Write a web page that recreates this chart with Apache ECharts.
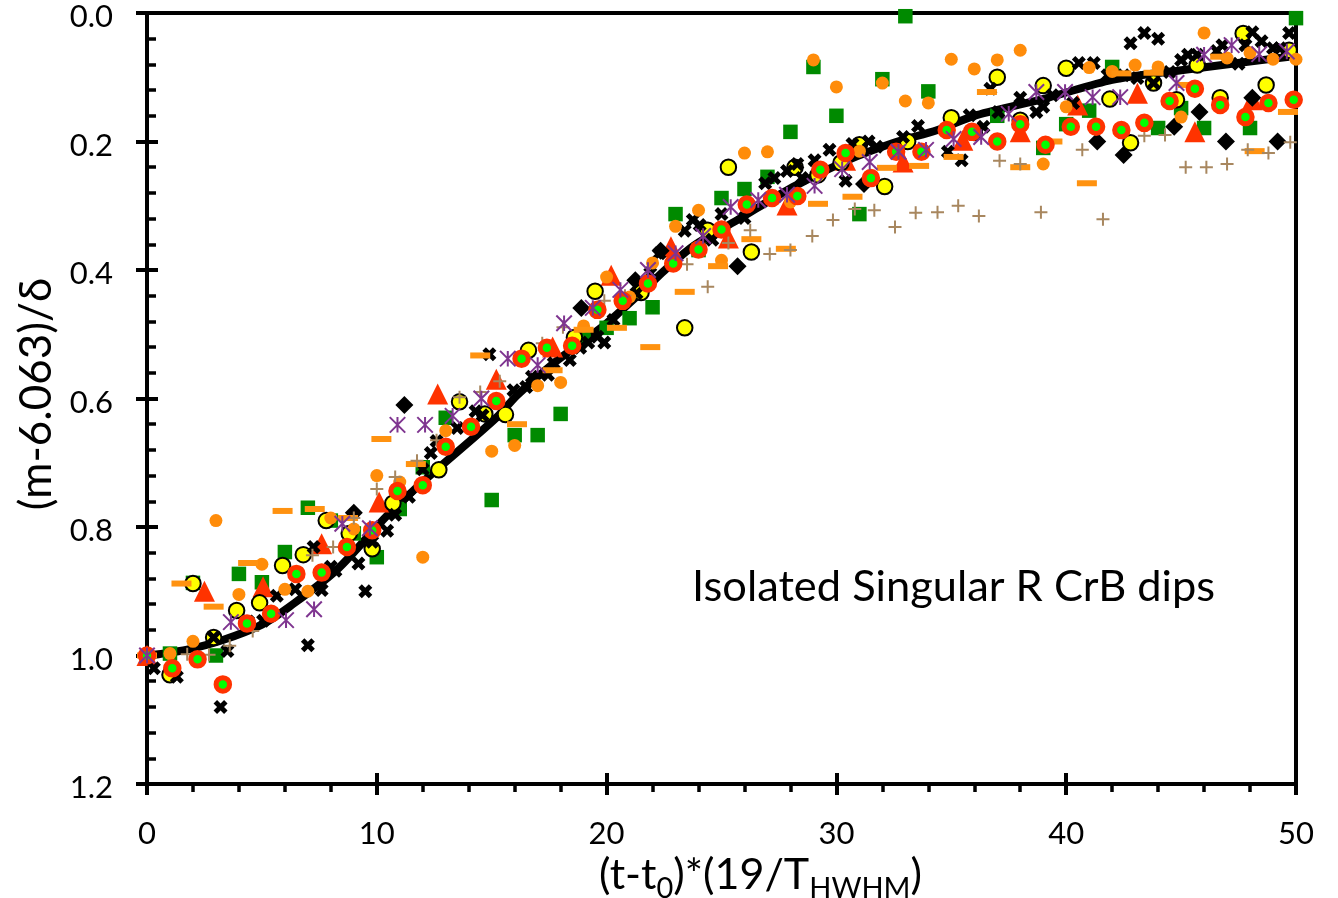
<!DOCTYPE html>
<html><head><meta charset="utf-8">
<style>html,body{margin:0;padding:0;background:#fff}#c{width:1338px;height:898px}</style>
<script src="https://cdn.jsdelivr.net/npm/echarts@6/dist/echarts.min.js"></script>
</head><body><div id="c"></div>
<script>
const xTicks=[0,10,20,30,40,50];
const yTicks=[0,0.2,0.4,0.6,0.8,1.0,1.2];
const curveX=[0,0.5,1.75,3.3,5,6.2,8.25,10.4,11.75,12.6,15.2,16.1,17.7,20,21.8,22.6,23.8,25.7,28.1,30.5,32.5,34.4,36.1,39.2,42,45,47.9,49.7];
const curveY=[1.0,0.998,0.991,0.976,0.952,0.924,0.867,0.784,0.738,0.711,0.63,0.595,0.545,0.483,0.425,0.398,0.362,0.322,0.271,0.229,0.202,0.182,0.159,0.132,0.104,0.089,0.076,0.068];
const ringX=[0,1.1,2.2,3.3,4.35,5.4,6.5,7.6,8.7,9.8,10.9,12,13,14.1,15.2,16.3,17.4,18.5,19.6,20.7,21.8,22.9,24,25,26.1,27.2,28.3,29.3,30.4,31.5,32.6,33.7,34.8,35.9,37,38,39.1,40.2,41.3,42.4,43.4,44.5,45.6,46.7,47.8,48.8,49.9];
const ringY=[1.0,1.02,1.006,1.045,0.95,0.935,0.873,0.871,0.831,0.805,0.744,0.735,0.675,0.644,0.604,0.538,0.521,0.518,0.462,0.448,0.421,0.39,0.368,0.337,0.298,0.288,0.285,0.244,0.218,0.257,0.216,0.216,0.182,0.185,0.2,0.173,0.205,0.177,0.177,0.182,0.171,0.137,0.118,0.143,0.162,0.14,0.135];
const yellowX=[1,2,2.9,3.9,4.9,5.9,6.8,7.8,8.8,9.8,10.7,12.7,13.6,14.7,15.6,16.6,18.6,19.5,21.5,23.4,24.4,25.3,26.3,28.2,29.2,30.2,31,32.1,33.1,35,36,37,38,39,40,41.9,42.8,43.8,44.8,45.7,46.7,47.7,48.7,49.7];
const yellowY=[1.03,0.888,0.972,0.93,0.918,0.86,0.843,0.79,0.81,0.834,0.763,0.711,0.605,0.624,0.625,0.525,0.505,0.433,0.435,0.49,0.338,0.24,0.372,0.24,0.252,0.233,0.205,0.27,0.2,0.163,0.186,0.1,0.167,0.113,0.086,0.134,0.202,0.109,0.135,0.081,0.132,0.032,0.112,0.058];
const orangeX=[0,1,2,3,4,5,6,7,8,9,10,11,12,13,15,16,17,18,19,20,21,22,23,24,25,26,27,28,29,30,31,32,33,34,35,36,37,38,39,40,41,42,43,44,45,46,47,48,49,50];
const orangeY=[1.0,0.997,0.978,0.79,0.905,0.858,0.897,0.9,0.786,0.803,0.72,0.73,0.847,0.65,0.682,0.673,0.58,0.575,0.487,0.411,0.442,0.389,0.332,0.307,0.385,0.218,0.216,0.294,0.073,0.115,0.215,0.109,0.137,0.14,0.072,0.087,0.073,0.058,0.235,0.146,0.085,0.091,0.081,0.084,0.162,0.031,0.07,0.062,0.072,0.072];
const squareX=[1,2,3,4,5,6,7,8,9,10,11,12,13,15,16,17,18,19,20,21,22,23,24,25,26,27,28,29,30,31,32,33,34,37,39,40,41,42,44,45,46,48,50];
const squareY=[0.997,0.887,1.0,0.873,0.886,0.839,0.77,0.79,0.81,0.847,0.772,0.707,0.63,0.758,0.657,0.657,0.624,0.504,0.49,0.475,0.458,0.313,0.369,0.288,0.274,0.255,0.185,0.084,0.16,0.313,0.103,0.005,0.122,0.16,0.21,0.173,0.152,0.084,0.179,0.148,0.179,0.179,0.008];
const triX=[0,2.5,5.05,7.6,10.1,12.65,15.2,17.65,20.2,22.8,25.3,27.85,30.4,32.9,35.5,38,40.5,43.1,45.6,48.1];
const triY=[1.0,0.9,0.893,0.826,0.761,0.593,0.57,0.52,0.408,0.364,0.35,0.299,0.229,0.232,0.198,0.185,0.143,0.125,0.185,0.135];
const dashX=[0,1.5,2.9,4.4,5.9,7.3,8.75,10.2,11.7,14.5,16.1,17.65,19,20.45,21.9,23.4,24.85,26.3,27.8,29.2,30.7,32.2,33.6,35.1,36.55,38,39.4,40.9,42.4,43.8,45.3,46.7,48.2,49.65];
const dashY=[1.0,0.888,0.924,0.856,0.775,0.772,0.786,0.663,0.702,0.533,0.64,0.556,0.493,0.49,0.52,0.434,0.394,0.352,0.367,0.297,0.286,0.241,0.238,0.224,0.123,0.24,0.2,0.265,0.094,0.093,0.112,0.068,0.215,0.154];
const plusX=[1.75,2.7,3.6,4.6,7.2,8.1,9,10,10.8,11.75,12.6,13.6,14.5,15.35,17.2,18.1,19.9,20.8,23.5,24.4,25.3,26.25,27.1,28,28.95,29.85,30.8,31.65,32.55,33.45,34.4,35.3,36.2,37.1,38,38.9,40.7,41.6,43.4,44.3,45.2,46.1,47,47.9,48.8,49.75];
const plusY=[0.998,0.999,0.985,0.962,0.844,0.831,0.786,0.741,0.722,0.697,0.665,0.598,0.59,0.573,0.514,0.489,0.448,0.44,0.391,0.426,0.358,0.338,0.375,0.369,0.347,0.322,0.305,0.307,0.333,0.311,0.31,0.3,0.316,0.23,0.235,0.31,0.213,0.321,0.191,0.19,0.24,0.24,0.235,0.213,0.218,0.201];
const starX=[0,3.65,6.05,7.27,8.5,9.7,10.9,12.1,13.3,14.55,15.7,17,18.15,19.4,20.6,21.8,23,24.2,25.4,26.6,27.85,29.05,30.25,31.45,32.7,33.9,35.1,36.3,37.5,38.7,39.95,41.15,42.35,44.8,46,47.2,48.4,49.6];
const starY=[1.0,0.948,0.945,0.928,0.795,0.802,0.641,0.641,0.627,0.6,0.538,0.548,0.483,0.459,0.431,0.4,0.374,0.347,0.302,0.291,0.283,0.269,0.243,0.232,0.216,0.213,0.196,0.193,0.157,0.123,0.123,0.131,0.131,0.109,0.065,0.05,0.064,0.06];
const crossX=[0.3,1.3,2.9,3.2,3.5,4.4,5.05,5.65,6.45,7,7.25,7.6,8,8.2,9.2,9.5,9.8,10.45,10.8,11.4,12,12.35,12.6,13.5,14.3,14.6,14.9,15.95,16.5,16.75,17.45,17.7,18.4,18.85,19.2,19.6,19.9,20.3,21.3,21.9,22.3,23.4,23.75,24.05,24.6,25,26,26.9,27.3,27.85,28.3,28.5,29.05,29.7,30.4,30.7,31.4,31.75,32.9,33.55,34.85,35.45,35.8,36.4,36.7,37.05,38,38.7,39,39.4,40.3,40.55,41.2,41.8,42.5,42.8,43.1,43.4,43.8,44,44.5,45,45.3,45.7,46.55,46.8,47.5,47.8,48.1,48.5,49,49.3,49.7];
const crossY=[1.02,1.033,0.972,1.08,0.993,0.947,0.946,0.907,0.897,0.984,0.831,0.898,0.862,0.868,0.857,0.9,0.823,0.806,0.781,0.753,0.71,0.685,0.666,0.646,0.62,0.626,0.531,0.587,0.582,0.566,0.563,0.545,0.54,0.521,0.513,0.504,0.513,0.478,0.436,0.405,0.374,0.339,0.322,0.33,0.353,0.313,0.319,0.265,0.257,0.246,0.235,0.257,0.229,0.213,0.261,0.204,0.2,0.208,0.193,0.176,0.216,0.229,0.159,0.177,0.118,0.154,0.132,0.154,0.146,0.128,0.14,0.078,0.078,0.097,0.097,0.047,0.101,0.031,0.109,0.04,0.092,0.073,0.065,0.065,0.059,0.05,0.079,0.05,0.03,0.044,0.055,0.055,0.031];
const diamondX=[9,11.2,18.9,21.25,22.35,25.7,31.2,41.35,42.5,44.7,45.8,46.95,48.1,49.2];
const diamondY=[0.778,0.61,0.459,0.416,0.37,0.394,0.266,0.2,0.221,0.177,0.154,0.2,0.132,0.2];

const zip=(a,b)=>a.map((v,i)=>[v,b[i]]);
const FONT="Lato, 'Noto Sans', sans-serif";
const CROSS='path://M3 0L6 3L9 0L12 3L9 6L12 9L9 12L6 9L3 12L0 9L3 6L0 3Z';
const PLUS='path://M5.5 0H7.5V13H5.5ZM0 5.5H13V7.5H0Z';
const STAR='path://M7 0V14M0 0L14 14M0 14L14 0';
const sc=(d,symbol,size,style)=>({type:'scatter',data:d,symbol,symbolSize:size,itemStyle:Object.assign({opacity:1},style),clip:false,silent:true,animation:false});
const chart=echarts.init(document.getElementById('c'),null,{renderer:'canvas'});
const xBase={type:'value',min:0,max:50,interval:10,position:'bottom',splitLine:{show:false},
  axisLine:{show:true,onZero:false,lineStyle:{color:'#000',width:4}}};
const yBase={type:'value',min:0,max:1.2,interval:0.2,inverse:true,position:'left',splitLine:{show:false},
  axisLine:{show:true,onZero:false,lineStyle:{color:'#000',width:4}}};
chart.setOption({
  animation:false,backgroundColor:'#fff',
  grid:{left:147,right:42,top:13,bottom:114,outerBoundsMode:'none',show:true,borderColor:'#000',borderWidth:4,backgroundColor:'transparent'},
  xAxis:[
   Object.assign({},xBase,{axisTick:{show:true,length:11,lineStyle:{color:'#000',width:4}},
     minorTick:{show:true,splitNumber:5,length:8,lineStyle:{color:'#000',width:3.5}},
     axisLabel:{margin:34,fontFamily:FONT,fontSize:31,color:'#000',formatter:v=>String(v)},
     name:'(t-t{s|0})*(19/T{s|HWHM})',nameLocation:'middle',nameGap:58,
     nameTextStyle:{fontFamily:FONT,fontSize:43,color:'#000',padding:[0,0,0,78],rich:{s:{fontFamily:FONT,fontSize:29,color:'#000',verticalAlign:'bottom',padding:[26,0,0,0]}}}}),
   Object.assign({},xBase,{axisTick:{show:true,inside:true,length:11,lineStyle:{color:'#000',width:4}},axisLabel:{show:false}})
  ],
  yAxis:[
   Object.assign({},yBase,{axisTick:{show:true,length:11,lineStyle:{color:'#000',width:4}},
     axisLabel:{margin:34,color:'#000',formatter:v=>'{a|'+v.toFixed(1)+'}',rich:{a:{fontFamily:FONT,fontSize:31,color:'#000',padding:[8,0,0,0]}}},
     name:'(m-6.063)/δ',nameLocation:'middle',nameGap:87,nameRotate:90,
     nameTextStyle:{fontFamily:FONT,fontSize:44,color:'#000',padding:[0,0,0,9]}}),
   Object.assign({},yBase,{axisTick:{show:true,inside:true,length:11,lineStyle:{color:'#000',width:4}},
     minorTick:{show:true,splitNumber:5,length:9,lineStyle:{color:'#000',width:3.5}},axisLabel:{show:false}})
  ],
  graphic:[{type:'text',left:692,top:565,silent:true,style:{text:'Isolated Singular R CrB dips',font:"43.4px "+FONT,fill:'#000'}}],
  series:[
   sc(zip(squareX,squareY),'rect',14.5,{color:'#008A00'}),
   sc(zip(triX,triY),'triangle',[21,21],{color:'#FF3300'}),
   sc(zip(yellowX,yellowY),'circle',15.5,{color:'#FFFF00',borderColor:'#000',borderWidth:2}),
   sc(zip(diamondX,diamondY),'diamond',18,{color:'#000'}),
   sc(zip(crossX,crossY),CROSS,14,{color:'#000'}),
   {type:'line',data:zip(curveX,curveY),smooth:0.3,showSymbol:false,symbol:'none',lineStyle:{color:'#000',width:8},silent:true,animation:false,z:2},
   sc(zip(orangeX,orangeY),'circle',13,{color:'#FF8C0A'}),
   sc(zip(dashX,dashY),'rect',[20,6],{color:'#FF9210'}),
   sc(zip(plusX,plusY),PLUS,13,{color:'#A8875F'}),
   sc(zip(ringX,ringY),'circle',13.5,{color:'#00FF00',borderColor:'#FF3300',borderWidth:5}),
   sc(zip(starX,starY),STAR,15.5,{color:'transparent',borderColor:'#7F3590',borderWidth:2})
  ]
});
</script></body></html>
